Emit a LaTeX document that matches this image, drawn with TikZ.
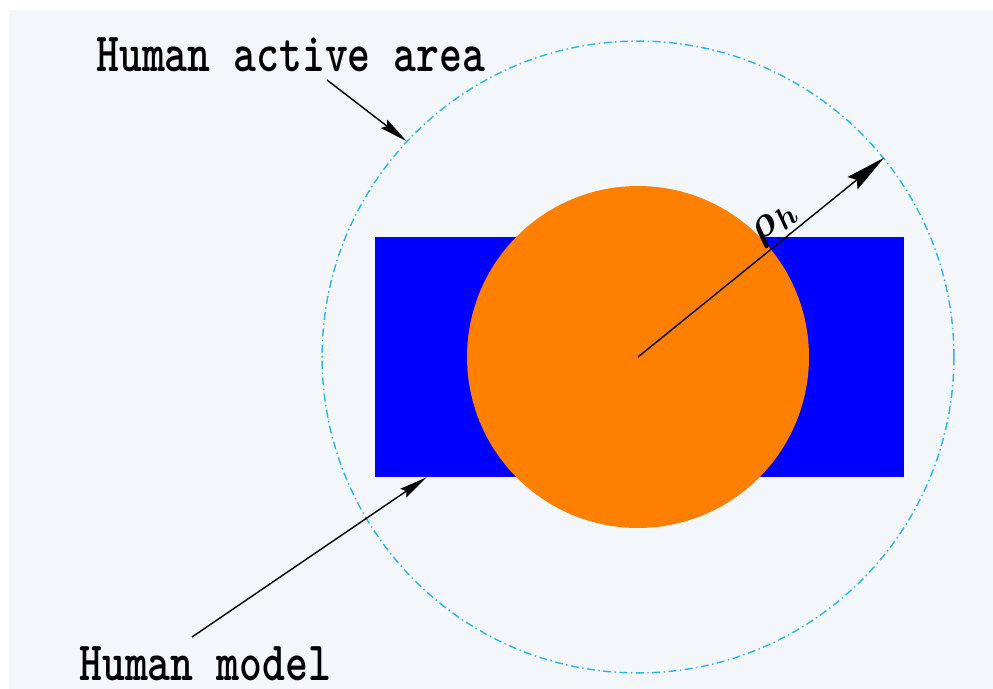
\documentclass[tikz,border=0pt]{standalone}
\usepackage{fontspec}
\usepackage{graphicx}
\usetikzlibrary{arrows.meta,calc}
\definecolor{bgfill}{HTML}{F3F6FB}
\definecolor{areablue}{HTML}{29B6F0}
\definecolor{bodyblue}{HTML}{0000FF}
\definecolor{headorange}{HTML}{FF8000}
\tikzset{
  tag/.style={inner sep=0pt,font=\ttfamily\bfseries\fontsize{24.8}{27}\selectfont},
  pointer/.style={->,line width=0.8pt},
}
\newcommand{\tall}[1]{\scalebox{1}[1.27]{#1}}
\begin{document}
\begin{tikzpicture}[x=0.02cm,y=-0.02cm,>={Stealth[length=16pt,width=6pt,inset=2pt]}]
  \useasboundingbox (0,0) rectangle (993,689);
  \fill[bgfill] (9,10) rectangle (993,689);
  \node[draw=areablue,circle,minimum size=12.64cm,inner sep=0pt,line width=0.8pt,
        dash pattern=on 4.5pt off 2pt on 0.8pt off 2pt] (area) at (638,357) {};
  \node[fill=bodyblue,minimum width=10.58cm,minimum height=4.8cm,inner sep=0pt] (body) at (639.5,357) {};
  \node[fill=headorange,circle,minimum size=6.84cm,inner sep=0pt] (head) at (638,357) {};
  \node[tag,anchor=base west] (arealabel) at (96,72) {\tall{Human active area}};
  \node[tag,anchor=base west] (modellabel) at (79,680) {\tall{Human model}};
  \coordinate (areatail) at (327,80);
  \coordinate (modeltail) at (192,637);
  \draw[pointer] (areatail) -- (area.137);
  \draw[pointer] (modeltail) -- ($(body.south west)!0.098!(body.south east)$);
  \draw[pointer,>={Stealth[length=23pt,width=9pt,inset=3pt]}] (head.center) -- (area.39)
    node[pos=0.6,above,sloped,inner sep=1.5pt,font=\fontsize{36}{38}\selectfont\boldmath] (rholabel) {$\rho_{\scriptscriptstyle h}$};
\end{tikzpicture}
\end{document}
